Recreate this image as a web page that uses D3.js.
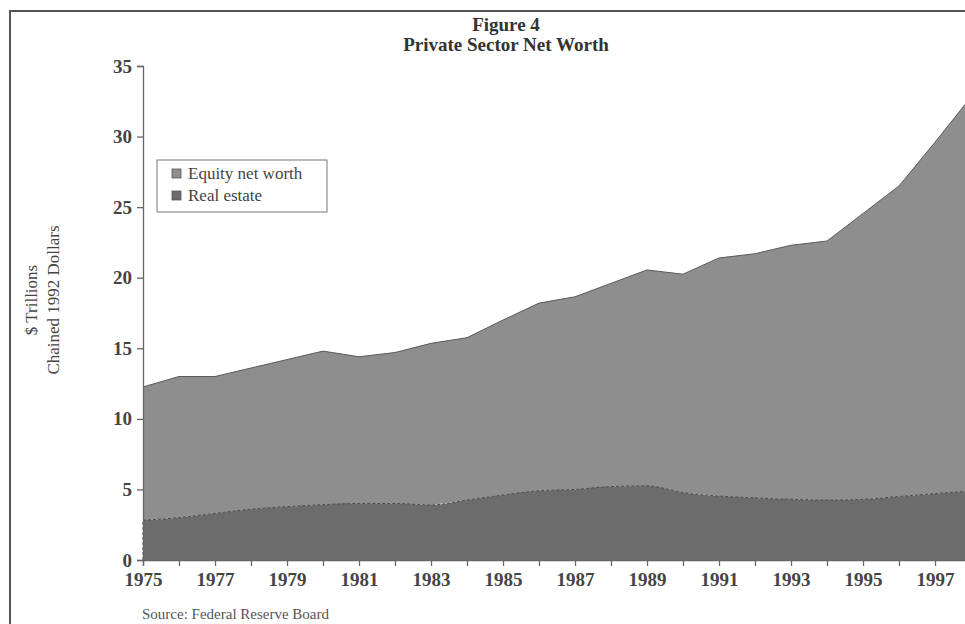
<!DOCTYPE html>
<html>
<head>
<meta charset="utf-8">
<script src="https://cdn.jsdelivr.net/npm/d3@7"></script>
<style>
  body { margin: 0; background: #fff; }
  svg { display: block; font-family: "Liberation Serif", "DejaVu Serif", serif; }
</style>
</head>
<body>
<svg id="chart" width="965" height="624"></svg>
<script>
// Data ($ trillions, chained 1992 dollars)
var years = [1975,1976,1977,1978,1979,1980,1981,1982,1983,1984,1985,1986,
             1987,1988,1989,1990,1991,1992,1993,1994,1995,1996,1997,1998];
var realEstate = [2.82,3.0,3.3,3.6,3.78,3.92,4.0,4.0,3.9,4.25,4.6,4.9,
                  5.0,5.2,5.25,4.77,4.53,4.4,4.3,4.25,4.3,4.5,4.7,4.9];
var equity = [9.44,10.0,9.7,10.0,10.42,10.88,10.4,10.7,11.45,11.5,12.4,13.3,
              13.65,14.4,15.3,15.48,16.87,17.3,18.0,18.35,20.25,22.0,24.9,27.9];
var yTicks = [0,5,10,15,20,25,30,35];
var xTicks = [1975,1977,1979,1981,1983,1985,1987,1989,1991,1993,1995,1997];
var seriesNames = ["Equity net worth", "Real estate"];

var svg = d3.select("#chart"),
    width = +svg.attr("width"),
    height = +svg.attr("height");

var x = d3.scaleLinear().domain([1975, 1998]).range([143, 971]);
var y = d3.scaleLinear().domain([0, 35]).range([560, 66]);

var colEquity = "#8e8e8e", colRE = "#6c6c6c";
var serif = "'Liberation Serif', 'DejaVu Serif', serif";

// frame (clipped at right / bottom like the scan)
svg.append("path")
  .attr("d", "M10," + height + "V11H" + width)
  .attr("fill", "none").attr("stroke", "#555").attr("stroke-width", 2);

// stacked data
var table = years.map(function(yr, i) {
  return { year: yr, re: realEstate[i], eq: equity[i] };
});
var stack = d3.stack().keys(["re", "eq"]);
var layers = stack(table);

var area = d3.area()
  .x(function(d) { return x(d.data.year); })
  .y0(function(d) { return y(d[0]); })
  .y1(function(d) { return y(d[1]); });

svg.append("path")
  .datum(layers[1])
  .attr("d", area)
  .attr("fill", colEquity);

svg.append("path")
  .datum(layers[0])
  .attr("d", area.curve(d3.curveMonotoneX))
  .attr("fill", colRE);

// top outline
svg.append("path")
  .datum(layers[1])
  .attr("d", d3.line()
    .x(function(d) { return x(d.data.year); })
    .y(function(d) { return y(d[1]); }))
  .attr("fill", "none").attr("stroke", "#5a5a5a").attr("stroke-width", 1);

// dashed real estate boundary
svg.append("path")
  .datum(layers[0])
  .attr("d", d3.line()
    .curve(d3.curveMonotoneX)
    .x(function(d) { return x(d.data.year); })
    .y(function(d) { return y(d[1]); }))
  .attr("fill", "none").attr("stroke", "#4a4a4a")
  .attr("stroke-width", 1).attr("stroke-dasharray", "3,2");

svg.append("line")
  .attr("x1", x(1975)).attr("x2", x(1975))
  .attr("y1", y(0)).attr("y2", y(realEstate[0]))
  .attr("stroke", "#4a4a4a").attr("stroke-dasharray", "3,2");

// axes
var xAxis = d3.axisBottom(x)
  .tickValues(years)
  .tickSize(6)
  .tickFormat(function(d) { return xTicks.indexOf(d) >= 0 ? d : ""; });
var gx = svg.append("g").attr("transform", "translate(0," + y(0) + ")").call(xAxis)
  .attr("font-family", serif).attr("font-size", 19).attr("font-weight", "bold");
gx.select(".domain").attr("stroke", "#666").attr("stroke-width", 1.3);
gx.selectAll(".tick line").attr("stroke", "#666").attr("stroke-width", 1.3);
gx.selectAll(".tick text")
  .attr("dy", null).attr("y", 26).attr("fill", "#444");

var yAxis = d3.axisLeft(y).tickValues(yTicks).tickSize(6).tickPadding(5);
var gy = svg.append("g").attr("transform", "translate(" + x(1975) + ",0)").call(yAxis)
  .attr("font-family", serif).attr("font-size", 19).attr("font-weight", "bold");
gy.select(".domain").attr("stroke", "#666").attr("stroke-width", 1.3);
gy.selectAll(".tick line").attr("stroke", "#666").attr("stroke-width", 1.3);
gy.selectAll(".tick text").attr("fill", "#444");

// title
svg.append("text")
  .attr("x", 506).attr("y", 31).attr("text-anchor", "middle")
  .style("font-size", "19px").style("font-weight", "bold").attr("fill", "#333")
  .text("Figure 4");
svg.append("text")
  .attr("x", 506).attr("y", 51).attr("text-anchor", "middle")
  .style("font-size", "19px").style("font-weight", "bold").attr("fill", "#333")
  .text("Private Sector Net Worth");

// y title
var yt = svg.append("text")
  .attr("transform", "translate(0,300) rotate(-90)")
  .attr("text-anchor", "middle")
  .style("font-size", "17px").attr("fill", "#444");
yt.append("tspan").attr("x", 0).attr("y", 37).text("$ Trillions");
yt.append("tspan").attr("x", 0).attr("y", 59).text("Chained 1992 Dollars");

// legend
var legend = svg.append("g");
legend.append("rect")
  .attr("x", 157).attr("y", 160).attr("width", 170).attr("height", 52)
  .attr("fill", "#fff").attr("stroke", "#777").attr("stroke-width", 1);
[colEquity, colRE].forEach(function(c, i) {
  legend.append("rect")
    .attr("x", 172).attr("y", 169 + i * 22).attr("width", 9).attr("height", 9)
    .attr("fill", c).attr("stroke", "#555").attr("stroke-width", 0.8);
  legend.append("text")
    .attr("x", 188).attr("y", 179 + i * 22)
    .style("font-size", "17px").attr("fill", "#444")
    .text(seriesNames[i]);
});

// source
svg.append("text")
  .attr("x", 142).attr("y", 619)
  .style("font-size", "15px").attr("fill", "#555")
  .text("Source: Federal Reserve Board");
</script>
</body>
</html>
